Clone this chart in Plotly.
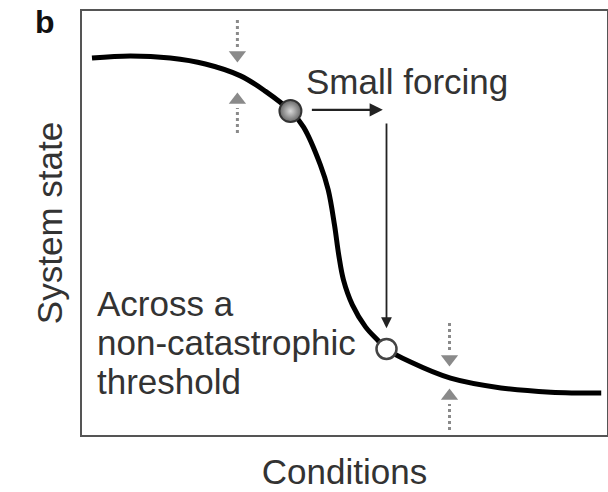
import plotly.graph_objects as go

# curve (conditions 0-10, system state 0-10)
cond = [0.19, 0.92, 1.68, 2.35, 3.02, 3.49, 3.97, 4.22, 4.54, 4.69, 4.81,
        4.89, 4.98, 5.15, 5.40, 5.63, 5.80, 6.26, 7.02, 7.98, 8.93, 9.89]
state = [8.89, 8.94, 8.89, 8.75, 8.47, 8.11, 7.64, 7.26, 6.37, 5.78, 4.95,
         4.25, 3.66, 3.07, 2.55, 2.24, 2.03, 1.72, 1.34, 1.11, 1.01, 0.99]

ball_x, ball_y = [3.97], [7.64]
open_x, open_y = [5.80], [2.03]

fnt = 'Liberation Sans, Arial, Helvetica, sans-serif'
txt = '#333333'
grey = '#8a8a8a'

fig = go.Figure()

fig.add_trace(go.Scatter(x=cond, y=state, mode='lines',
                         line=dict(color='black', width=5, shape='spline', smoothing=1.0),
                         hoverinfo='skip'))

# grey dotted "stability" arrows: (x, tail, tip)
arrows = [(2.96, 9.79, 8.77), (2.96, 7.12, 8.09),
          (7.00, 2.64, 1.60), (7.00, 0.12, 1.11)]
for ax_, tail, tip in arrows:
    down = tip < tail
    head = 0.38 if down else -0.38
    fig.add_trace(go.Scatter(x=[ax_, ax_], y=[tail, tip + head], mode='lines',
                             line=dict(color=grey, width=3, dash='dot'),
                             hoverinfo='skip'))
    fig.add_trace(go.Scatter(x=[ax_], y=[tip + head / 2], mode='markers',
                             marker=dict(symbol='triangle-down' if down else 'triangle-up',
                                         size=15, color=grey, line=dict(width=0)),
                             hoverinfo='skip'))

fig.add_trace(go.Scatter(x=ball_x, y=ball_y, mode='markers',
                         marker=dict(size=22, color='#666666',
                                     gradient=dict(type='radial', color='#d8d8d8'),
                                     line=dict(color='#333333', width=2)),
                         hoverinfo='skip'))
fig.add_trace(go.Scatter(x=open_x, y=open_y, mode='markers',
                         marker=dict(size=20, color='white',
                                     line=dict(color='#444444', width=2.5)),
                         hoverinfo='skip'))

# black forcing arrows
fig.add_annotation(x=5.73, y=7.67, ax=4.35, ay=7.67, xref='x', yref='y',
                   axref='x', ayref='y', text='', showarrow=True,
                   arrowhead=2, arrowsize=1.2, arrowwidth=2.2, arrowcolor='#222')
fig.add_annotation(x=5.80, y=2.52, ax=5.80, ay=7.38, xref='x', yref='y',
                   axref='x', ayref='y', text='', showarrow=True,
                   arrowhead=2, arrowsize=1.2, arrowwidth=1.8, arrowcolor='#222')

fig.add_annotation(x=4.22, y=8.33, text='Small forcing', showarrow=False,
                   xanchor='left', yanchor='middle',
                   font=dict(family=fnt, size=35, color=txt))
for yy, line in zip([3.10, 2.19, 1.27], ['Across a', 'non-catastrophic', 'threshold']):
    fig.add_annotation(x=0.25, y=yy, text=line, showarrow=False,
                       xanchor='left', yanchor='middle',
                       font=dict(family=fnt, size=35, color=txt))

fig.add_annotation(x=-0.07, y=0.974, xref='paper', yref='paper', text='<b>b</b>',
                   xanchor='center', yanchor='middle',
                   showarrow=False, font=dict(family=fnt, size=32, color='#111'))

fig.update_xaxes(range=[0, 10], showgrid=False, zeroline=False, showticklabels=False,
                 ticks='', showline=True, mirror=True, linecolor='#555', linewidth=2,
                 automargin=False,
                 title=dict(text='Conditions', standoff=23,
                            font=dict(family=fnt, size=35, color=txt)))
fig.update_yaxes(range=[0, 10], showgrid=False, zeroline=False, showticklabels=False,
                 ticks='', showline=True, mirror=True, linecolor='#555', linewidth=2,
                 automargin=False,
                 title=dict(text='System state', standoff=7,
                            font=dict(family=fnt, size=35, color=txt)))

fig.update_layout(width=608, height=492, showlegend=False,
                  plot_bgcolor='white', paper_bgcolor='white',
                  margin=dict(l=82, r=1, t=11, b=57))

# drop the default body margin so the figure sits at the window corner
fig.write_html('out.html', config={'displayModeBar': False},
               post_script="document.body.style.margin='0';")
